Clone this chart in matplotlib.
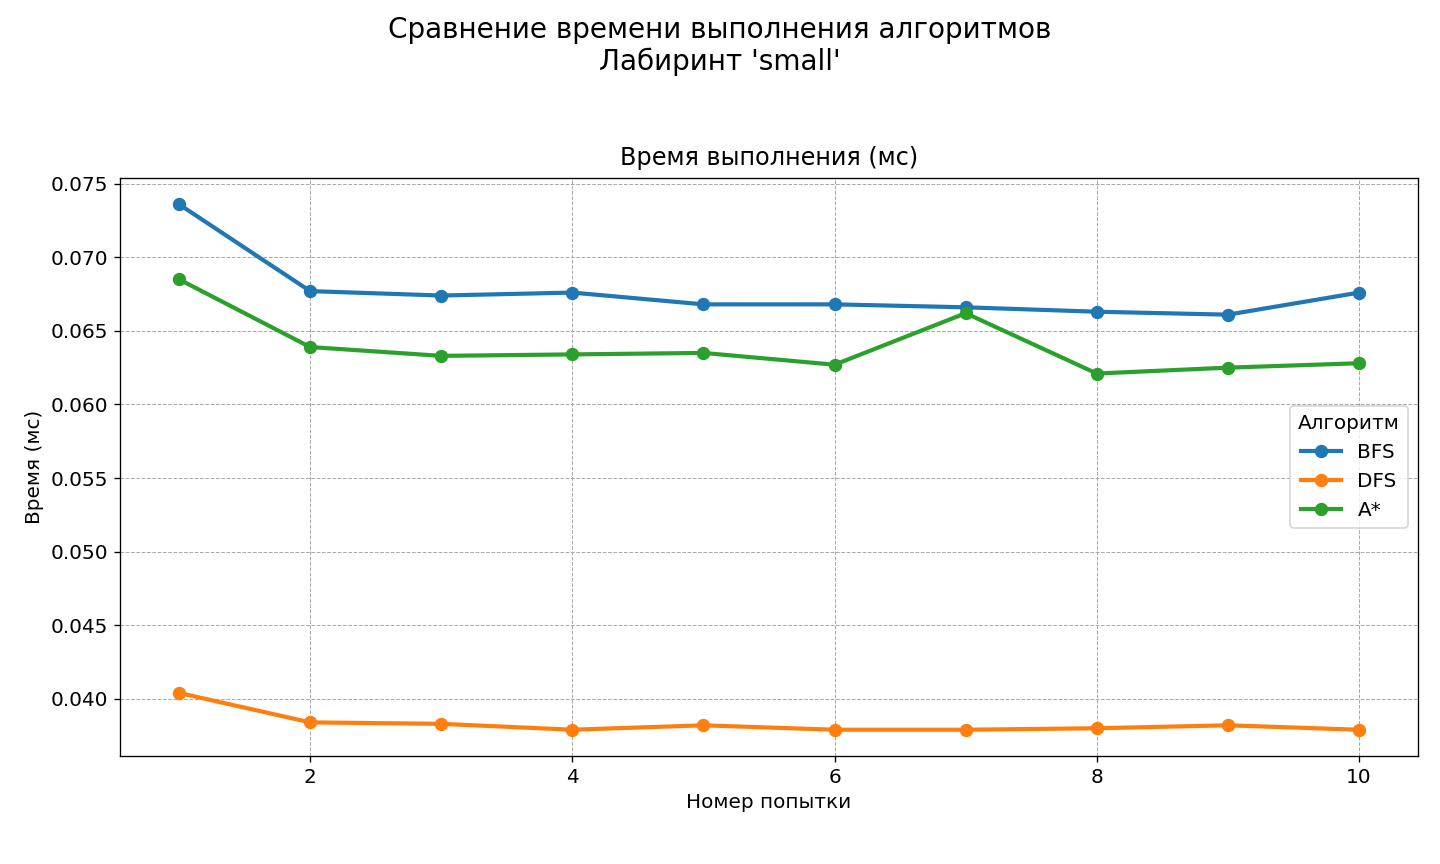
import matplotlib
matplotlib.use("Agg")
import matplotlib.pyplot as plt

attempts = [1, 2, 3, 4, 5, 6, 7, 8, 9, 10]
bfs = [0.0736, 0.0677, 0.0674, 0.0676, 0.0668, 0.0668, 0.0666, 0.0663, 0.0661, 0.0676]
dfs = [0.0404, 0.0384, 0.0383, 0.0379, 0.0382, 0.0379, 0.0379, 0.0380, 0.0382, 0.0379]
astar = [0.0685, 0.0639, 0.0633, 0.0634, 0.0635, 0.0627, 0.0662, 0.0621, 0.0625, 0.0628]
series_names = ["BFS", "DFS", "A*"]

fig = plt.figure(figsize=(12, 7.2), dpi=120)
ax = fig.add_axes([120/1440, 1-756/864, (1418-120)/1440, (756-178)/864])

for name, vals in zip(series_names, [bfs, dfs, astar]):
    ax.plot(attempts, vals, marker="o", linewidth=2.5, markersize=7, label=name)

ax.set_title("Время выполнения (мс)", fontsize=14.4, pad=8)
ax.set_xlabel("Номер попытки", fontsize=12)
ax.set_ylabel("Время (мс)", fontsize=12)
ax.tick_params(labelsize=12)
ax.grid(True, linestyle="--", linewidth=0.6, color="#aaaaaa")
leg = ax.legend(title="Алгоритм", loc="center right", fontsize=12, title_fontsize=12)
fig.suptitle("Сравнение времени выполнения алгоритмов\nЛабиринт 'small'", fontsize=16.7, y=0.982)

fig.savefig("out.png", dpi=120)
